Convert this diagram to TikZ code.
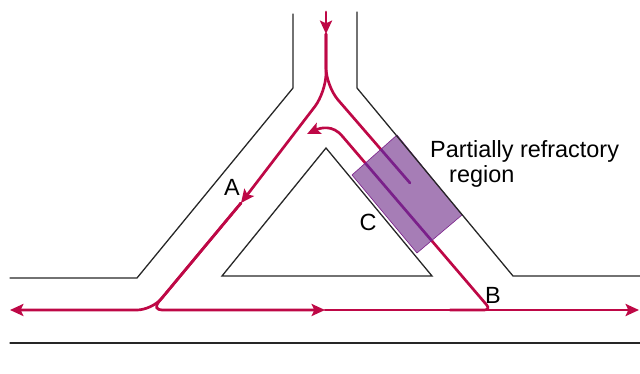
\documentclass[tikz,border=0pt]{standalone}
\usepackage{fontspec}
\setmainfont{Liberation Sans}
\usetikzlibrary{arrows.meta}
\definecolor{impulse}{RGB}{190,8,70}
\definecolor{refract}{RGB}{166,125,182}
\definecolor{deep}{RGB}{122,32,138}
\begin{document}
\begin{tikzpicture}[x=0.03cm, y=-0.03cm, line cap=round,
  wall/.style={line width=1.1pt, black!85},
  fibre/.style={line width=2.3pt, impulse},
  tip/.style={-{Stealth[length=0.4cm, width=0.36cm, inset=0.08cm]}},
  lettering/.style={font=\fontsize{20}{24}\selectfont, inner sep=0pt}]
  \useasboundingbox (0, 0) rectangle (640, 374);
  % Corners of the channels.
  \coordinate (Split) at (326, 34);   % common stem, below the first arrow
  \coordinate (LBend) at (326, 92);   % stem turns into left limb
  \coordinate (RBend) at (326, 86);   % stem turns into right limb
  \coordinate (A)     at (241, 203);  % arrow on left limb
  \coordinate (LFoot) at (152, 310);  % left limb meets the bottom line
  \coordinate (Mid)   at (325, 310);
  \coordinate (B)     at (491, 310);  % right limb meets the bottom line
  \coordinate (Stop)  at (410, 183);  % anterograde wave dies out here
  \coordinate (Top)   at (343, 137);  % retrograde wave turns over the apex
  % Impulse paths.
  \draw[fibre, tip] (326, 12) -- (Split);
  \draw[fibre, tip, rounded corners=0.55cm] (Split) -- (LBend) -- (A);
  \draw[fibre, tip, rounded corners=0.45cm] (A) -- (LFoot) -- (10, 310);
  \draw[fibre, tip, rounded corners=0.3cm] (A) -- (LFoot) -- (Mid);
  \draw[fibre, tip] (Mid) -- (639, 310);
  \draw[fibre, rounded corners=0.55cm] (Split) -- (RBend) -- (Stop);
  \draw[fibre, rounded corners=0.2cm] (450, 310) -- (B) -- (Top);
  \draw[fibre, tip] (Top) .. controls (333, 124) and (320, 128) .. (307, 134);
  % Partially refractory region.
  \fill[refract] (352, 175) -- (397, 135) -- (462, 215) -- (417, 253) -- cycle;
  \begin{scope}
    \clip (352, 175) -- (397, 135) -- (462, 215) -- (417, 253) -- cycle;
    \draw[fibre, draw=deep] (RBend) -- (Stop);
    \draw[fibre, draw=deep] (B) -- (Top);
  \end{scope}
  \draw[deep, line width=0.5pt] (352, 175) -- (397, 135) -- (462, 215) -- (417, 253) -- cycle;
  % Walls of the branching bundle.
  \draw[wall] (293, 14) -- (293, 88) -- (137, 278) -- (10, 278);
  \draw[wall] (357, 12) -- (357, 88) -- (513, 276) -- (640, 276);
  \draw[wall] (10, 343) -- (640, 343);
  \draw[wall] (326, 148) -- (432, 276) -- (222, 276) -- cycle;
  % Labels.
  \node[lettering] (labA) at (232, 187) {A};
  \node[lettering] (labB) at (493, 295) {B};
  \node[lettering] (labC) at (368, 222) {C};
  \node[lettering, anchor=base west] (partial) at (430, 158) {Partially refractory};
  \node[lettering, anchor=base west] (region) at (449, 183) {region};
\end{tikzpicture}
\end{document}
